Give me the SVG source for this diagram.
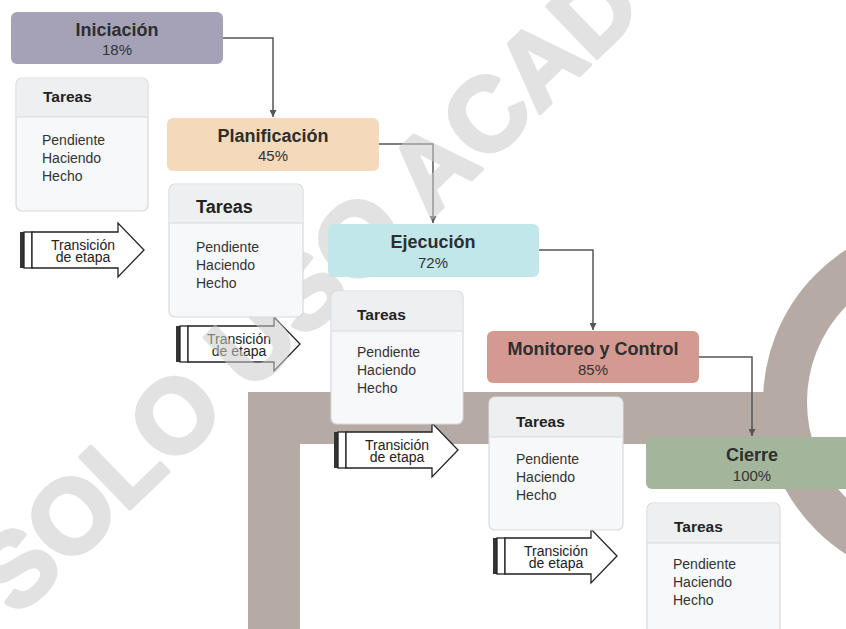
<svg xmlns="http://www.w3.org/2000/svg" width="846" height="629" viewBox="0 0 846 629">
<style>
text{font-family:"Liberation Sans",Arial,sans-serif;fill:#333}
.ttl{font-size:18px;font-weight:bold;text-anchor:middle;fill:#2e2e2e}
.pct{font-size:15px;text-anchor:middle}
.th{font-size:15.5px;font-weight:bold;fill:#222}
.th2{font-size:18px;font-weight:bold;fill:#222}
.it{font-size:14px}
.tr{font-size:14px;text-anchor:middle;fill:#222}
.hdr{fill:#eeeff1}
.body{fill:#f7f8fa;stroke:#d9d9db;stroke-width:1.2}
.sep{stroke:#d9d9db;stroke-width:1.2}
.conn{fill:none;stroke:#555;stroke-width:1.5}
.arr{fill:#fff;stroke:#222;stroke-width:1.3}
.bar{fill:#333}
.wm{font-family:"Liberation Sans",Arial,sans-serif;font-size:104px;font-weight:bold;fill:#cccccc;stroke:#cccccc;stroke-width:4;stroke-linejoin:round;opacity:0.55}
</style>
<defs>
<marker id="ah" viewBox="0 0 10 10" refX="10" refY="5" markerWidth="7" markerHeight="7" markerUnits="userSpaceOnUse" orient="auto">
<path d="M0,0 L10,5 L0,10 z" fill="#555"/>
</marker>
<symbol id="tras" overflow="visible">
<rect x="0" y="9" width="4" height="36" class="bar"/>
<rect x="4" y="9" width="8" height="36" fill="#fff" stroke="#222" stroke-width="1.3"/>
<path d="M12,9 H98 V0 L124,27 L98,54 V45 H12 Z" class="arr"/>
<text x="63" y="27" class="tr">Transición</text>
<text x="63" y="39" class="tr">de etapa</text>
</symbol>
</defs>
<rect width="846" height="629" fill="#fff"/>
<g id="fondo" fill="#b6aaa5">
<path d="M248,392 H785 V444 H300 V629 H248 Z"/>
<circle cx="944" cy="402" r="159" fill="none" stroke="#b6aaa5" stroke-width="44"/>
</g>
<g id="conectores">
<path class="conn" d="M223,38 H273 V117" marker-end="url(#ah)"/>
<path class="conn" d="M379,144 H433 V223" marker-end="url(#ah)"/>
<path class="conn" d="M539,250 H593 V330" marker-end="url(#ah)"/>
<path class="conn" d="M699,357 H752 V436" marker-end="url(#ah)"/>
</g>
<g id="transicion1"><use href="#tras" x="20" y="223"/></g>
<g id="transicion2"><use href="#tras" x="176" y="317"/></g>
<g id="transicion3"><use href="#tras" x="334" y="423"/></g>
<g id="transicion4"><use href="#tras" x="493" y="529"/></g>
<g id="marca">
<text x="17" y="618" class="wm" transform="rotate(-44 17 618)">SOLO USO ACAD</text>
</g>
<g id="iniciacion">
<rect x="11" y="12" width="212" height="52" rx="6" fill="#a5a2b8"/>
<text x="117" y="36" class="ttl">Iniciación</text>
<text x="117" y="55" class="pct">18%</text>
</g>
<g id="tareas1">
<rect x="16" y="78" width="132" height="133" rx="6" class="body"/>
<path d="M16.6,117 V84 a5.4,5.4 0 0 1 5.4,-5.4 H142 a5.4,5.4 0 0 1 5.4,5.4 V117 Z" class="hdr"/>
<line x1="16" y1="117" x2="148" y2="117" class="sep"/>
<text x="43" y="102" class="th">Tareas</text>
<text x="42" y="145" class="it">Pendiente</text>
<text x="42" y="163" class="it">Haciendo</text>
<text x="42" y="181" class="it">Hecho</text>
</g>
<g id="planificacion">
<rect x="167" y="118" width="212" height="53" rx="6" fill="#f5d9bb"/>
<text x="273" y="142" class="ttl">Planificación</text>
<text x="273" y="161" class="pct">45%</text>
</g>
<g id="tareas2">
<rect x="169" y="184" width="134" height="133" rx="6" class="body"/>
<path d="M169.6,223 V190 a5.4,5.4 0 0 1 5.4,-5.4 H297 a5.4,5.4 0 0 1 5.4,5.4 V223 Z" class="hdr"/>
<line x1="169" y1="223" x2="303" y2="223" class="sep"/>
<text x="196" y="213" class="th2">Tareas</text>
<text x="196" y="252" class="it">Pendiente</text>
<text x="196" y="270" class="it">Haciendo</text>
<text x="196" y="288" class="it">Hecho</text>
</g>
<g id="ejecucion">
<rect x="328" y="224" width="211" height="53" rx="6" fill="#c1e7ea"/>
<text x="433" y="248" class="ttl">Ejecución</text>
<text x="433" y="268" class="pct">72%</text>
</g>
<g id="tareas3">
<rect x="331" y="291" width="132" height="133" rx="6" class="body"/>
<path d="M331.6,331 V297 a5.4,5.4 0 0 1 5.4,-5.4 H457 a5.4,5.4 0 0 1 5.4,5.4 V331 Z" class="hdr"/>
<line x1="331" y1="331" x2="463" y2="331" class="sep"/>
<text x="357" y="320" class="th">Tareas</text>
<text x="357" y="357" class="it">Pendiente</text>
<text x="357" y="375" class="it">Haciendo</text>
<text x="357" y="393" class="it">Hecho</text>
</g>
<g id="monitoreo">
<rect x="487" y="331" width="212" height="52" rx="6" fill="#d49a92"/>
<text x="593" y="355" class="ttl">Monitoreo y Control</text>
<text x="593" y="375" class="pct">85%</text>
</g>
<g id="tareas4">
<rect x="489" y="397" width="134" height="133" rx="6" class="body"/>
<path d="M489.6,437 V403 a5.4,5.4 0 0 1 5.4,-5.4 H617 a5.4,5.4 0 0 1 5.4,5.4 V437 Z" class="hdr"/>
<line x1="489" y1="437" x2="623" y2="437" class="sep"/>
<text x="516" y="427" class="th">Tareas</text>
<text x="516" y="464" class="it">Pendiente</text>
<text x="516" y="482" class="it">Haciendo</text>
<text x="516" y="500" class="it">Hecho</text>
</g>
<g id="cierre">
<rect x="646" y="437" width="222" height="52" rx="6" fill="#a3b59a"/>
<text x="752" y="461" class="ttl">Cierre</text>
<text x="752" y="481" class="pct">100%</text>
</g>
<g id="tareas5">
<rect x="647" y="503" width="133" height="140" rx="6" class="body"/>
<path d="M647.6,543 V509 a5.4,5.4 0 0 1 5.4,-5.4 H774 a5.4,5.4 0 0 1 5.4,5.4 V543 Z" class="hdr"/>
<line x1="647" y1="543" x2="780" y2="543" class="sep"/>
<text x="674" y="532" class="th">Tareas</text>
<text x="673" y="569" class="it">Pendiente</text>
<text x="673" y="587" class="it">Haciendo</text>
<text x="673" y="605" class="it">Hecho</text>
</g>
</svg>
